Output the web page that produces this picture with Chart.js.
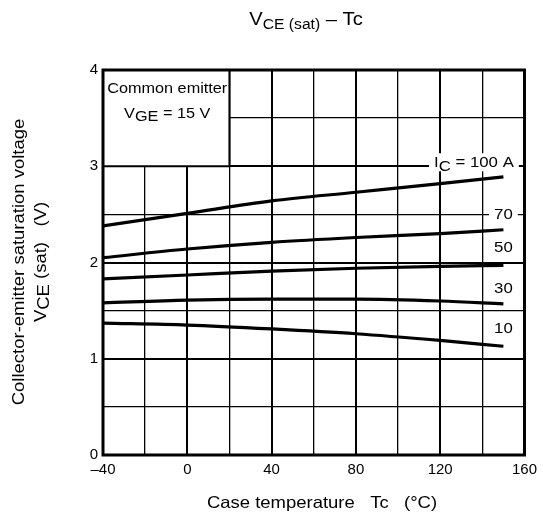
<!DOCTYPE html>
<html>
<head>
<meta charset="utf-8">
<script src="https://cdn.jsdelivr.net/npm/chart.js@4/dist/chart.umd.min.js"></script>
<style>
  html, body { margin: 0; padding: 0; background: #fff; }
</style>
</head>
<body>
<canvas id="vceChart" width="543" height="524"></canvas>
<script>
// case temperature Tc (°C)
const temps = [-40, 0, 40, 80, 120, 150];
// VCE(sat) (V) for each collector current
const ic100 = [2.38, 2.51, 2.64, 2.73, 2.82, 2.89];
const ic70 = [2.05, 2.14, 2.21, 2.26, 2.30, 2.34];
const ic50 = [1.83, 1.87, 1.91, 1.94, 1.96, 1.97];
const ic30 = [1.58, 1.61, 1.62, 1.62, 1.60, 1.57];
const ic10 = [1.37, 1.35, 1.31, 1.26, 1.19, 1.13];
const curveNames = ['100 A', '70', '50', '30', '10'];
const xTickLabels = [-40, 0, 40, 80, 120, 160];
const yTickLabels = [0, 1, 2, 3, 4];

const FONT = '"Liberation Sans", Arial, sans-serif';
const SX = 1.12; // reference text is a bit wide

function font(size) { return size + 'px ' + FONT; }

// draw text made of parts [{t, size, dy}] with a horizontal stretch
function drawRich(ctx, parts, x, y, align) {
  let w = 0;
  parts.forEach(p => { ctx.font = font(p.size); p.w = ctx.measureText(p.t).width; w += p.w; });
  let x0 = x;
  if (align === 'center') x0 = x - w * SX / 2;
  else if (align === 'right') x0 = x - w * SX;
  ctx.save();
  ctx.translate(x0, y);
  ctx.scale(SX, 1);
  ctx.fillStyle = '#000';
  ctx.textAlign = 'left';
  ctx.textBaseline = 'alphabetic';
  let cx = 0;
  parts.forEach(p => {
    ctx.font = font(p.size);
    ctx.fillText(p.t, cx, p.dy || 0);
    cx += p.w;
  });
  ctx.restore();
  return w * SX;
}

function toPts(vals) { return temps.map((t, i) => ({ x: t, y: vals[i] })); }

const annotate = {
  id: 'annotate',
  beforeDatasetsDraw(chart) {
    const { ctx, scales: { x, y } } = chart;
    // condition box in the upper left corner
    const bx0 = x.getPixelForValue(-40), bx1 = x.getPixelForValue(20);
    const by0 = y.getPixelForValue(4), by1 = y.getPixelForValue(3);
    ctx.save();
    ctx.fillStyle = '#fff';
    ctx.fillRect(bx0, by0, bx1 - bx0, by1 - by0);
    ctx.strokeStyle = '#000';
    ctx.lineWidth = 2;
    ctx.beginPath();
    ctx.moveTo(bx1, by0); ctx.lineTo(bx1, by1); ctx.lineTo(bx0, by1);
    ctx.stroke();
    ctx.restore();
    const bcx = (bx0 + bx1) / 2 + 1;
    drawRich(ctx, [{ t: 'Common emitter', size: 14.5 }], bcx, by0 + 23, 'center');
    drawRich(ctx, [{ t: 'V', size: 14.5 }, { t: 'GE', size: 14.5, dy: 3 }, { t: ' = 15 V', size: 14.5 }], bcx, by0 + 48, 'center');
  },
  afterDatasetsDraw(chart) {
    const { ctx, scales: { x, y } } = chart;
    // curve labels with white backing over the grid
    const lab = [
      { parts: [{ t: 'I', size: 15 }, { t: 'C', size: 15, dy: 4 }, { t: ' = ' + curveNames[0], size: 15 }], tx: 136, ty: 3.0, bg: true, lift: 4 },
      { parts: [{ t: curveNames[1], size: 15 }], tx: 150, ty: 2.5, bg: true },
      { parts: [{ t: curveNames[2], size: 15 }], tx: 150, ty: 2.16 },
      { parts: [{ t: curveNames[3], size: 15 }], tx: 150, ty: 1.74 },
      { parts: [{ t: curveNames[4], size: 15 }], tx: 150, ty: 1.32 }
    ];
    lab.forEach(l => {
      const px = x.getPixelForValue(l.tx), py = y.getPixelForValue(l.ty) - (l.lift || 0);
      let w = 0;
      l.parts.forEach(p => { ctx.font = font(p.size); w += ctx.measureText(p.t).width; });
      w *= SX;
      if (l.bg) {
        ctx.fillStyle = '#fff';
        ctx.fillRect(px - w / 2 - 5, py - 9, w + 10, 18);
      }
      drawRich(ctx, l.parts, px, py + 5, 'center');
    });
  },
  afterDraw(chart) {
    const { ctx, chartArea: a } = chart;
    // frame
    ctx.save();
    ctx.strokeStyle = '#000';
    ctx.lineWidth = 3;
    ctx.strokeRect(a.left, a.top, a.right - a.left, a.bottom - a.top);
    ctx.restore();
    // title
    drawRich(ctx, [{ t: 'V', size: 18 }, { t: 'CE (sat)', size: 14, dy: 4 }, { t: ' \u2013 Tc', size: 18 }], 306, 25, 'center');
    // x title
    drawRich(ctx, [{ t: 'Case temperature   Tc   (\u00b0C)', size: 16.5 }], 322, 508, 'center');
    // y title, two rotated lines
    ctx.save();
    ctx.translate(0, 262);
    ctx.rotate(-Math.PI / 2);
    drawRich(ctx, [{ t: 'Collector-emitter saturation voltage', size: 16.5 }], 0, 24, 'center');
    drawRich(ctx, [{ t: 'V', size: 16.5 }, { t: 'CE', size: 16.5, dy: 3 }, { t: ' (sat)   (V)', size: 16.5 }], 0, 46, 'center');
    ctx.restore();
  }
};

const ctx = document.getElementById('vceChart').getContext('2d');
const mk = vals => ({
  data: toPts(vals),
  borderColor: '#000',
  borderWidth: 3.2,
  pointRadius: 0,
  fill: false,
  cubicInterpolationMode: 'monotone'
});

new Chart(ctx, {
  type: 'line',
  data: { datasets: [mk(ic100), mk(ic70), mk(ic50), mk(ic30), mk(ic10)] },
  options: {
    responsive: false,
    animation: false,
    layout: { padding: { top: 70, right: 15, left: 0, bottom: 0 } },
    plugins: { legend: { display: false }, tooltip: { enabled: false } },
    scales: {
      x: {
        type: 'linear', min: -40, max: 160,
        afterFit: s => { s.height = 69; },
        border: { display: false },
        grid: {
          color: '#000', drawTicks: false,
          lineWidth: c => (c.tick && c.tick.value % 40 === 0 ? 2 : 1.3)
        },
        ticks: {
          stepSize: 20, autoSkip: false, maxRotation: 0, padding: 6,
          color: '#000', font: { family: FONT, size: 15 },
          callback: v => xTickLabels.includes(v) ? (v < 0 ? '\u2013' + Math.abs(v) : String(v)) : ''
        }
      },
      y: {
        type: 'linear', min: 0, max: 4,
        afterFit: s => { s.width = 103; },
        border: { display: false },
        grid: {
          color: '#000', drawTicks: false,
          lineWidth: c => (c.tick && Number.isInteger(c.tick.value) ? 2 : 1.3)
        },
        ticks: {
          stepSize: 0.5, autoSkip: false, padding: 5,
          color: '#000', font: { family: FONT, size: 15 },
          callback: v => yTickLabels.includes(v) ? String(v) : ''
        }
      }
    }
  },
  plugins: [annotate]
});
</script>
</body>
</html>
